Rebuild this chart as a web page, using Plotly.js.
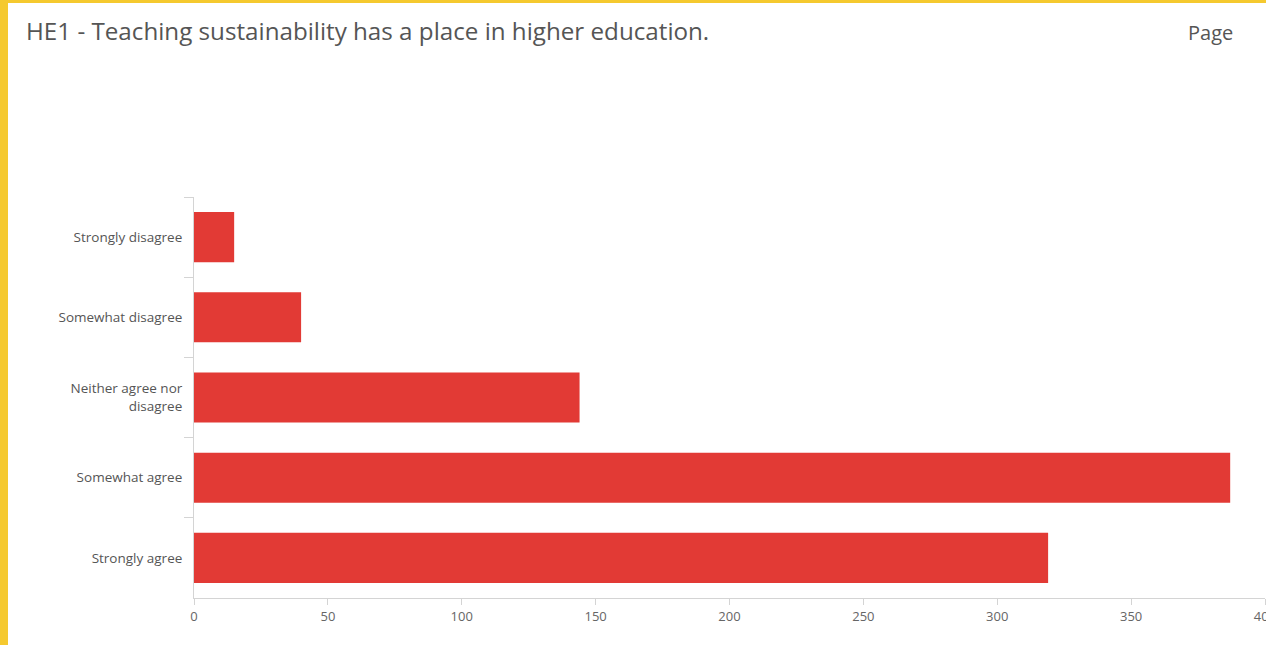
<!DOCTYPE html>
<html>
<head>
<meta charset="utf-8">
<script src="https://cdn.plot.ly/plotly-3.0.1.min.js"></script>
<style>
  html, body { margin: 0; padding: 0; background: #fff; overflow: hidden; }
  #wrap { width: 1258px; height: 642px; border-left: 8px solid #F5C92F; border-top: 3px solid #F5C92F; overflow: hidden; position: relative; }
  #chart { width: 1300px; height: 642px; }
</style>
</head>
<body>
<div id="wrap"><div id="chart"></div></div>
<script>
const categories = ["Strongly disagree", "Somewhat disagree", "Neither agree nor<br>disagree", "Somewhat agree", "Strongly agree"];
const counts = [15, 40, 144, 387, 319];
const xTicks = [0, 50, 100, 150, 200, 250, 300, 350, 400];
const titleText = "HE1 - Teaching sustainability has a place in higher education.";
const pageText = "Page";

const font = "'Open Sans', 'Noto Sans', sans-serif";

Plotly.newPlot("chart", [{
  type: "bar",
  orientation: "h",
  y: categories,
  x: counts,
  marker: { color: "#E23A35" },
  hoverinfo: "x+y"
}], {
  width: 1300,
  height: 642,
  margin: { l: 186, r: 43, t: 194, b: 47 },
  paper_bgcolor: "#ffffff",
  plot_bgcolor: "#ffffff",
  bargap: 0.375,
  showlegend: false,
  font: { family: font, color: "#666666", size: 13 },
  title: {
    text: titleText,
    x: 18 / 1300, xanchor: "left", xref: "container",
    y: 1 - 29 / 642, yanchor: "middle", yref: "container",
    font: { family: font, size: 24.2, color: "#555555" }
  },
  annotations: [{
    text: pageText,
    xref: "paper", yref: "paper",
    x: (1178 - 186) / 1071, xanchor: "left",
    y: (595 - 29) / 401, yanchor: "middle",
    showarrow: false,
    font: { family: font, size: 20, color: "#555555" }
  }],
  xaxis: {
    range: [0, 400],
    tickvals: xTicks,
    ticktext: xTicks.map(String),
    showgrid: false,
    zeroline: false,
    showline: true,
    linecolor: "#d4d4d4",
    linewidth: 1,
    ticks: "outside",
    ticklen: 6,
    tickcolor: "#d4d4d4",
    ticklabelstandoff: 0,
    tickfont: { family: font, size: 13, color: "#666666" },
    fixedrange: true
  },
  yaxis: {
    autorange: "reversed",
    showgrid: false,
    zeroline: false,
    showline: true,
    linecolor: "#d4d4d4",
    linewidth: 1,
    ticks: "outside",
    tickson: "boundaries",
    ticklen: 9,
    tickcolor: "#d4d4d4",
    ticklabelstandoff: 8,
    tickfont: { family: font, size: 13.5, color: "#555555" },
    fixedrange: true
  }
}, { displayModeBar: false, staticPlot: true });
</script>
</body>
</html>
